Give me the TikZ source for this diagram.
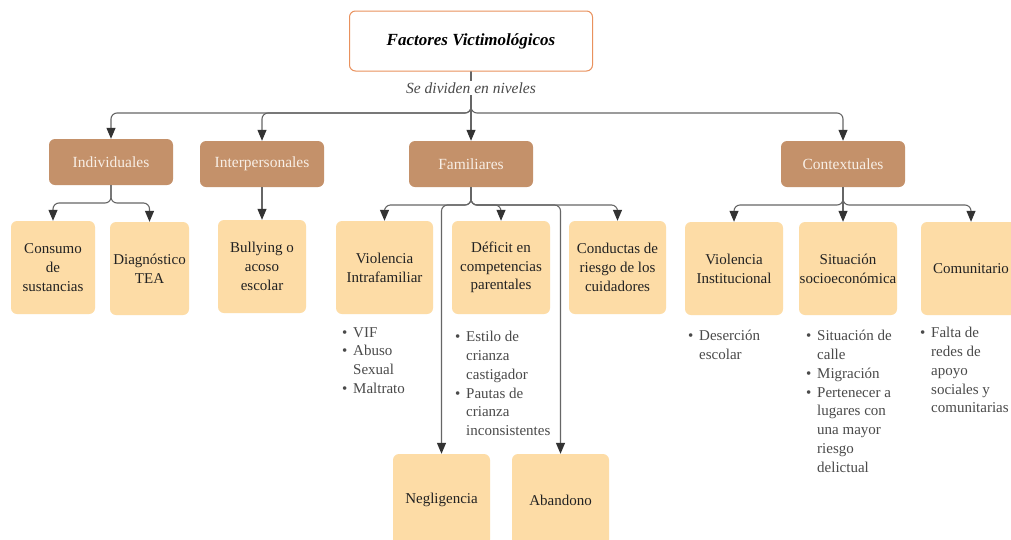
\documentclass[tikz,border=0pt]{standalone}
\usepackage{fontspec}
\setmainfont{Liberation Serif}
\usetikzlibrary{arrows.meta}
\definecolor{brownbox}{HTML}{C4916A}
\definecolor{leafbox}{HTML}{FDDCA6}
\definecolor{topline}{HTML}{E9915D}
\definecolor{conncol}{HTML}{666666}
\definecolor{tipcol}{HTML}{333333}
\definecolor{txt}{HTML}{222222}
\definecolor{btxt}{HTML}{4A4A4A}
\definecolor{lvltxt}{HTML}{F8EFE6}
\newcommand{\bl}{\makebox[11pt][l]{\textbullet}}
\newcommand{\bi}{\hspace*{11pt}}
\begin{document}
\begin{tikzpicture}[x=1pt,y=-1pt,
 topbox/.style={draw=topline,line width=1pt,rounded corners=6pt,fill=white,minimum width=243pt,minimum height=60pt,inner sep=0pt,font=\fontsize{17}{20}\selectfont\bfseries\itshape,text=black},
 lvl/.style={fill=brownbox,rounded corners=6pt,minimum width=124pt,minimum height=46pt,inner sep=0pt,text=lvltxt,font=\fontsize{15.5}{18.8}\selectfont},
 leaf/.style={fill=leafbox,rounded corners=6pt,inner sep=0pt,align=center,text=txt,font=\fontsize{15}{18.8}\selectfont,minimum height=93pt},
 blist/.style={anchor=north west,inner sep=0pt,align=left,text=btxt,font=\fontsize{15}{18.8}\selectfont},
 connector/.style={draw=conncol,line width=1.1pt,rounded corners=6pt,-{Triangle[width=9pt,length=11pt,color=tipcol,fill=tipcol]}},
]
\useasboundingbox[fill=white] (0,0) rectangle (1011,539);

\node[topbox] (top) at (471,41) {Factores Victimológicos};

\node[lvl] (ind) at (111,162) {Individuales};
\node[lvl] (inter) at (262,164) {Interpersonales};
\node[lvl] (fam) at (471,164) {Familiares};
\node[lvl] (ctx) at (843,164) {Contextuales};

\node[leaf,minimum width=84pt] (cons) at (53,267.5) {Consumo\\de\\sustancias};
\node[leaf,minimum width=79pt] (diag) at (149.5,268.5) {Diagnóstico\\TEA};
\node[leaf,minimum width=88pt] (bully) at (262,266.5) {Bullying o\\acoso\\escolar};
\node[leaf,minimum width=97pt] (vif) at (384.5,267.5) {Violencia\\Intrafamiliar};
\node[leaf,minimum width=98pt] (def) at (501,267.5) {Déficit en\\competencias\\parentales};
\node[leaf,minimum width=97pt] (cond) at (617.5,267.5) {Conductas de\\riesgo de los\\cuidadores};
\node[leaf,minimum width=98pt] (vinst) at (734,268.5) {Violencia\\Institucional};
\node[leaf,minimum width=98pt] (socio) at (848,268.5) {Situación\\socioeconómica};
\node[leaf,minimum width=100pt] (comun) at (971,268.5) {Comunitario};
\node[leaf,minimum width=97pt,minimum height=92pt] (neg) at (441.5,500) {Negligencia};
\node[leaf,minimum width=97pt,minimum height=92pt] (aband) at (560.5,500) {Abandono};

% main bus
\coordinate (bus) at (471,113);
\draw[connector] (top.south) -- (bus) -| (ind.north);
\draw[connector] (top.south) -- (bus) -| (inter.north);
\draw[connector] (top.south) -- (fam.north);
\draw[connector] (top.south) -- (bus) -| (ctx.north);
\node[fill=white,inner sep=2pt,font=\fontsize{15.5}{17}\selectfont\itshape,text=btxt] (lbl) at (471,88) {Se dividen en niveles};

% individuales
\coordinate (ji) at (111,203);
\draw[connector] (ind.south) -- (ji) -| (cons.north);
\draw[connector] (ind.south) -- (ji) -| (diag.north);
% interpersonales
\draw[connector] (inter.south) -- (bully.north);
% familiares
\coordinate (jf) at (471,205);
\draw[connector] (fam.south) -- (jf) -| (vif.north);
\draw[connector] (fam.south) -- (jf) -| (def.north);
\draw[connector] (fam.south) -- (jf) -| (cond.north);
\draw[connector] (fam.south) -- (jf) -| (neg.north);
\draw[connector] (fam.south) -- (jf) -| (aband.north);
% contextuales
\coordinate (jc) at (843,205);
\draw[connector] (ctx.south) -- (jc) -| (vinst.north);
\draw[connector] (ctx.south) -- (jc |- socio.north);
\draw[connector] (ctx.south) -- (jc) -| (comun.north);

% bullet lists
\node[blist] (lvif) at (342,327) {\bl VIF\\\bl Abuso\\\bi Sexual\\\bl Maltrato};
\node[blist] (ldef) at (455,331) {\bl Estilo de\\\bi crianza\\\bi castigador\\\bl Pautas de\\\bi crianza\\\bi inconsistentes};
\node[blist] (lvinst) at (688,330) {\bl Deserción\\\bi escolar};
\node[blist] (lsocio) at (806,330) {\bl Situación de\\\bi calle\\\bl Migración\\\bl Pertenecer a\\\bi lugares con\\\bi una mayor\\\bi riesgo\\\bi delictual};
\node[blist] (lcomun) at (920,327) {\bl Falta de\\\bi redes de\\\bi apoyo\\\bi sociales y\\\bi comunitarias};
\end{tikzpicture}
\end{document}
